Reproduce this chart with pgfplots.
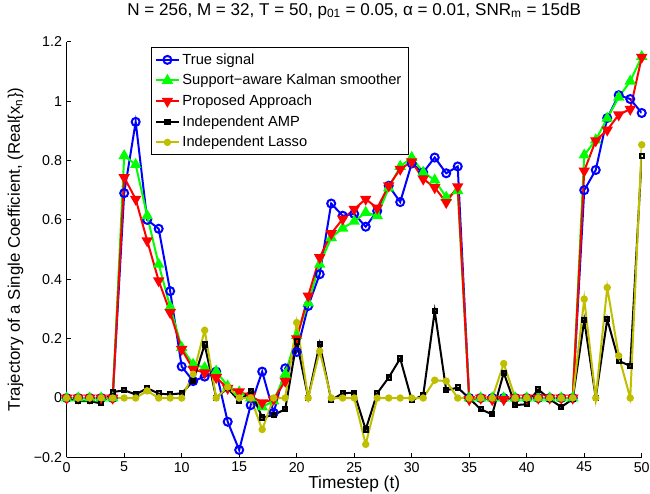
\documentclass[border=0pt]{standalone}
\usepackage{fontspec}
\setmainfont{Liberation Sans}
\usepackage{pgfplots}
\pgfplotsset{compat=1.18}
\definecolor{mylasso}{rgb}{0.75,0.75,0}
\begin{document}
\begin{tikzpicture}
\begin{axis}[
  scale only axis, width=431.25pt, height=311.7pt,
  xmin=0, xmax=50, ymin=-0.2, ymax=1.2,
  axis x line*=bottom, axis y line*=left,
  axis line style={line width=0.6pt},
  xtick={0,5,...,50},
  ytick={-0.2,0,0.2,0.4,0.6,0.8,1,1.2},
  yticklabels={−0.2,0,0.2,0.4,0.6,0.8,1,1.2},
  /pgf/number format/assume math mode=true,
  tick align=inside, major tick length=3.5pt,
  tick style={line width=0.6pt, black},
  tick label style={font=\fontsize{10.7}{12}\selectfont},
  every axis title shift=0pt,
  title style={font=\fontsize{12.8}{14}\selectfont, at={(axis description cs:0.5,1.0642)}, anchor=base},
  xlabel style={font=\fontsize{13}{14}\selectfont, at={(axis description cs:0.5,-0.0739)}, anchor=base},
  ylabel style={font=\fontsize{12.6}{14}\selectfont, at={(axis description cs:-0.0812,0.5)}, anchor=base, rotate=0},
  title={N = 256, M = 32, T = 50, p\textsubscript{01} = 0.05, α = 0.01, SNR\textsubscript{m} = 15dB},
  xlabel={Timestep (t)},
  ylabel={Trajectory of a Single Coefficient, (Real\{x\textsubscript{n}\})},
  legend style={at={(axis description cs:0.146,0.987)}, anchor=north west,
    font=\fontsize{11}{12}\selectfont,
    draw=black, line width=0.6pt, row sep=2pt, inner xsep=3pt, inner ysep=2.5pt},
  legend cell align=left,
  every axis plot/.append style={line width=1.5pt},
]
\addplot[blue, mark=o, mark size=3pt] coordinates {
(0,0)(1,0)(2,0)(3,0)(4,0)(5,0.69)(6,0.93)(7,0.60)(8,0.57)(9,0.36)(10,0.106)
(11,0.057)(12,0.072)(13,0.089)(14,-0.08)(15,-0.175)(16,-0.024)(17,0.089)(18,-0.05)(19,0.10)(20,0.155)
(21,0.31)(22,0.417)(23,0.655)(24,0.614)(25,0.62)(26,0.577)(27,0.63)(28,0.715)(29,0.66)(30,0.79)
(31,0.76)(32,0.81)(33,0.757)(34,0.78)(35,0)(36,0)(37,0)(38,0)(39,0)(40,0)
(41,0)(42,0)(43,0)(44,0)(45,0.70)(46,0.768)(47,0.943)(48,1.02)(49,1.007)(50,0.96)};
\addlegendentry{True signal}
\addplot[green, mark=triangle*, mark size=3.5pt] coordinates {
(0,0)(1,0)(2,0)(3,0)(4,0)(5,0.816)(6,0.786)(7,0.614)(8,0.45)(9,0.307)(10,0.17)
(11,0.113)(12,0.102)(13,0.09)(14,0.04)(15,0.02)(16,0.0)(17,-0.03)(18,-0.01)(19,0.08)(20,0.21)
(21,0.32)(22,0.45)(23,0.54)(24,0.572)(25,0.595)(26,0.625)(27,0.614)(28,0.707)(29,0.78)(30,0.81)
(31,0.76)(32,0.734)(33,0.676)(34,0.698)(35,0)(36,0)(37,0)(38,0)(39,0)(40,0)
(41,0)(42,0)(43,0)(44,0)(45,0.818)(46,0.869)(47,0.942)(48,1.013)(49,1.067)(50,1.15)};
\addlegendentry{Support−aware Kalman smoother}
\addplot[red, mark=triangle*, mark size=3.5pt, mark options={rotate=180}] coordinates {
(0,0)(1,0)(2,0)(3,0)(4,0)(5,0.743)(6,0.67)(7,0.53)(8,0.395)(9,0.288)(10,0.164)
(11,0.097)(12,0.085)(13,0.069)(14,0.033)(15,0.021)(16,0.007)(17,-0.016)(18,-0.004)(19,0.057)(20,0.2)
(21,0.344)(22,0.473)(23,0.554)(24,0.603)(25,0.636)(26,0.67)(27,0.64)(28,0.715)(29,0.771)(30,0.796)
(31,0.738)(32,0.709)(33,0.659)(34,0.712)(35,-0.005)(36,0)(37,-0.005)(38,-0.005)(39,0)(40,0)
(41,0)(42,0)(43,0)(44,0)(45,0.765)(46,0.867)(47,0.903)(48,0.954)(49,0.973)(50,1.148)};
\addlegendentry{Proposed Approach}
\addplot[black, mark=square, mark size=1.6pt] coordinates {
(0,0)(1,-0.01)(2,-0.011)(3,-0.018)(4,0.02)(5,0.026)(6,0.012)(7,0.033)(8,0.015)(9,0.012)(10,0.016)
(11,0.057)(12,0.18)(13,0.001)(14,0.033)(15,-0.01)(16,0.024)(17,-0.066)(18,-0.057)(19,-0.038)(20,0.19)
(21,0.001)(22,0.183)(23,-0.007)(24,0.016)(25,0.018)(26,-0.106)(27,0.016)(28,0.069)(29,0.133)(30,-0.007)
(31,0.009)(32,0.293)(33,0.026)(34,0.035)(35,-0.001)(36,-0.038)(37,-0.055)(38,0.085)(39,-0.024)(40,-0.021)
(41,0.029)(42,-0.004)(43,-0.03)(44,-0.004)(45,0.262)(46,0.001)(47,0.265)(48,0.125)(49,0.108)(50,0.816)};
\addlegendentry{Independent AMP}
\addplot[mylasso, mark=*, mark size=2pt] coordinates {
(0,0)(1,0)(2,0)(3,0)(4,0)(5,0)(6,0)(7,0.024)(8,0)(9,0)(10,0)
(11,0.08)(12,0.228)(13,0)(14,0.037)(15,0)(16,0)(17,-0.106)(18,0)(19,0)(20,0.254)
(21,0)(22,0.158)(23,0)(24,0)(25,0)(26,-0.156)(27,0)(28,0)(29,0)(30,0)
(31,0)(32,0.06)(33,0.057)(34,0)(35,0)(36,0)(37,0)(38,0.116)(39,0)(40,0)
(41,0)(42,0)(43,0)(44,0)(45,0.333)(46,0)(47,0.372)(48,0.142)(49,0)(50,0.853)};
\addlegendentry{Independent Lasso}
\end{axis}
\pgfresetboundingbox
\path ([xshift=-50pt,yshift=-26.8pt]current axis.south west) rectangle ([xshift=6.2pt,yshift=31.3pt]current axis.north east);
\end{tikzpicture}
\end{document}
